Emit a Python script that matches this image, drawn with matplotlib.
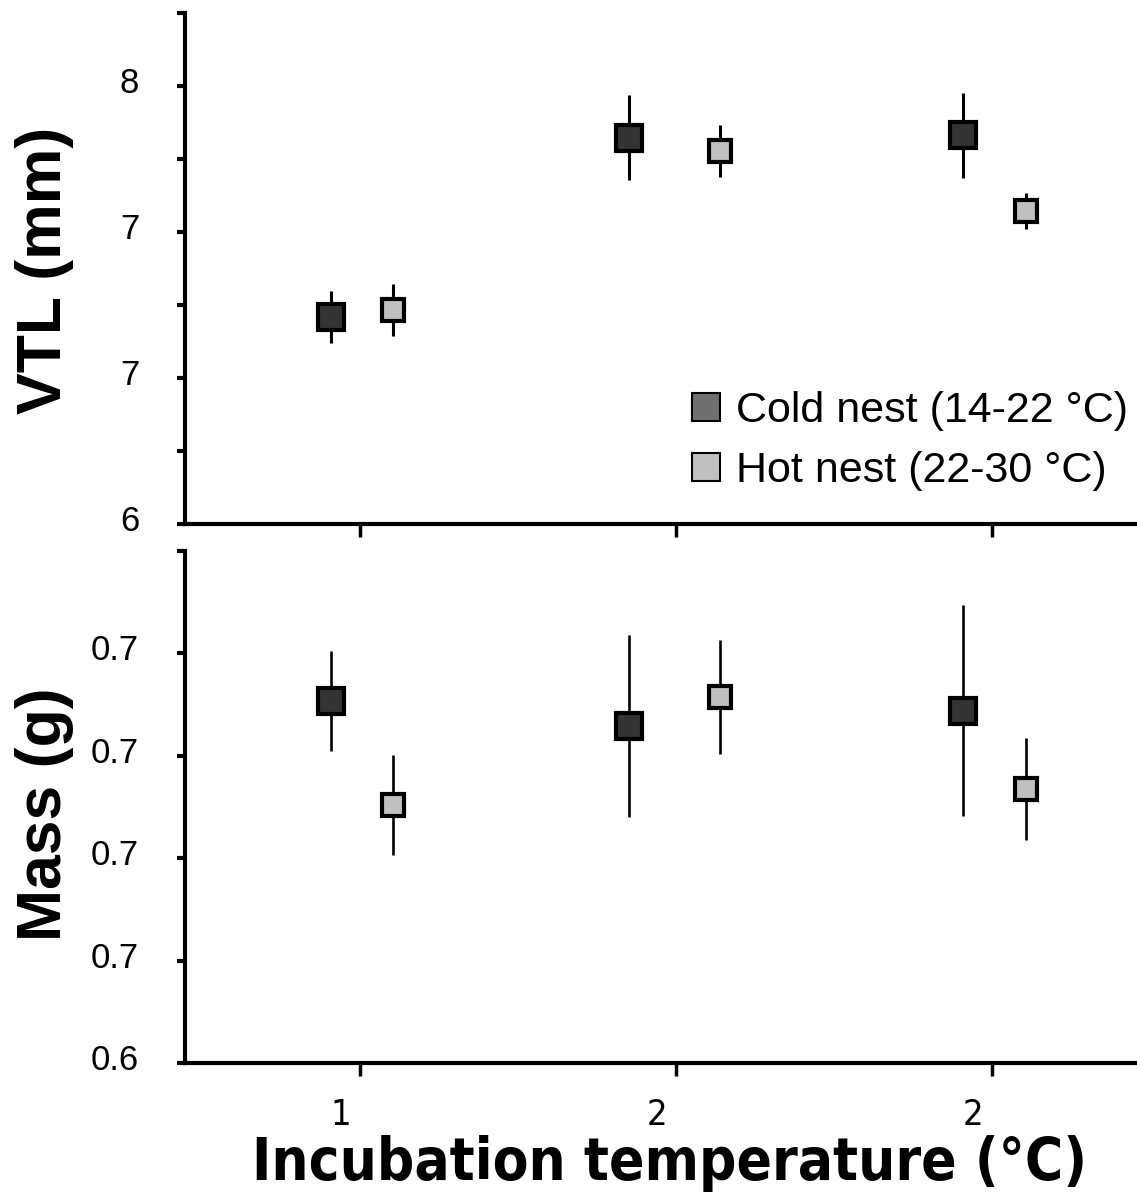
import numpy as np
import matplotlib
matplotlib.use('Agg')
import matplotlib.pyplot as plt
from matplotlib.lines import Line2D
from matplotlib.ticker import FixedLocator, FuncFormatter
from matplotlib import font_manager as fm
import matplotlib.transforms as mtransforms

plt.rcParams['font.family'] = ['Liberation Sans', 'DejaVu Sans']

# 数据
group_ticks = [1, 2, 3]
group_labels = ['1', '2', '2']

x_cold = [0.908, 1.851, 2.908]
x_hot = [1.104, 2.139, 3.108]

vtl_cold = [6.947, 7.763, 7.776]
vtl_cold_err = [0.119, 0.194, 0.194]
vtl_hot = [6.977, 7.703, 7.430]
vtl_hot_err = [0.119, 0.119, 0.082]

mass_cold = [0.7107, 0.7058, 0.7088]
mass_cold_err = [0.0098, 0.0178, 0.0206]
mass_hot = [0.6904, 0.7115, 0.6935]
mass_hot_err = [0.0098, 0.0111, 0.0100]

vtl_ticks = [6 + i / 3 for i in range(8)]
mass_ticks = [0.64 + 0.02 * i for i in range(6)]

cold_color = '#333333'
hot_color = '#c0c0c0'
legend_cold = '#707070'


# 找一个窄体字体（若有）
def find_narrow(bold):
    best = None
    for f in fm.fontManager.ttflist:
        p = f.fname.lower()
        if not ('narrow' in p or 'condensed' in p or 'cond' in p):
            continue
        is_bold = ('bold' in p) or (f.weight in ('bold', 700))
        if is_bold != bold or 'italic' in p or 'oblique' in p:
            continue
        rank = 0 if 'liberation' in p else (1 if 'dejavu' in p else 2)
        if best is None or rank < best[0]:
            best = (rank, f.fname)
    if best:
        return fm.FontProperties(fname=best[1])
    return fm.FontProperties(family='Liberation Sans',
                             weight='bold' if bold else 'normal')


narrow_bold = find_narrow(True)
narrow_reg = find_narrow(False)

W, H = 1137, 1200
fig = plt.figure(figsize=(W / 100, H / 100), dpi=100)
ax1 = fig.add_axes([185 / W, 1 - 524 / H, 1 - 185 / W, (524 - 13) / H])
ax2 = fig.add_axes([185 / W, 1 - 1063 / H, 1 - 185 / W, (1063 - 551) / H])


def draw(ax, yc, ec, yh, eh, lw):
    ax.errorbar(x_cold, yc, yerr=ec, fmt='s', ms=18.5, mfc=cold_color, mec='k',
                mew=3, ecolor='k', elinewidth=lw, capsize=0, zorder=3)
    ax.errorbar(x_hot, yh, yerr=eh, fmt='s', ms=16.5, mfc=hot_color, mec='k',
                mew=3, ecolor='k', elinewidth=lw, capsize=0, zorder=3)


draw(ax1, vtl_cold, vtl_cold_err, vtl_hot, vtl_hot_err, 2.2)
draw(ax2, mass_cold, mass_cold_err, mass_hot, mass_hot_err, 1.9)

for ax in (ax1, ax2):
    ax.set_xlim(0.446, 3.46)
    for side in ['right', 'top']:
        ax.spines[side].set_visible(False)
    for side in ['left', 'bottom']:
        ax.spines[side].set_linewidth(3)
    ax.set_xticks(group_ticks)
    ax.tick_params(axis='x', direction='out', length=9, width=2.5)
    ax.tick_params(axis='y', direction='out', length=6, width=3,
                   labelsize=25, pad=27)

ax1.set_ylim(vtl_ticks[0], vtl_ticks[-1])
ax1.yaxis.set_major_locator(FixedLocator(vtl_ticks))
ax1.yaxis.set_major_formatter(FuncFormatter(
    lambda v, p: '%.0f' % v if p % 2 == 0 and p < len(vtl_ticks) - 1 else ''))
ax1.tick_params(axis='x', labelbottom=False)

ax2.set_ylim(mass_ticks[0], mass_ticks[-1])
ax2.yaxis.set_major_locator(FixedLocator(mass_ticks))
ax2.yaxis.set_major_formatter(FuncFormatter(
    lambda v, p: '%.1f' % v if p < len(mass_ticks) - 1 else ''))
ax2.set_xticklabels(group_labels)
ax2.tick_params(axis='x', pad=16)
for lab in ax2.get_xticklabels():
    lab.set_fontproperties(narrow_reg)
    lab.set_fontsize(26)

# 刻度标签微调位置
up = mtransforms.ScaledTranslation(0, 6 / 100, fig.dpi_scale_trans)
left = mtransforms.ScaledTranslation(-19 / 100, 0, fig.dpi_scale_trans)
for ax in (ax1, ax2):
    for lab in ax.get_yticklabels():
        lab.set_transform(lab.get_transform() + up)
for lab in ax2.get_xticklabels():
    lab.set_transform(lab.get_transform() + left)

# 轴标题
fig.text(45 / W, 1 - 270 / H, 'VTL (mm)', rotation=90, ha='center', va='center',
         fontsize=45, fontweight='bold')
fig.text(45 / W, 1 - 814 / H, 'Mass (g)', rotation=90, ha='center', va='center',
         fontsize=45, fontweight='bold')
xl = fig.text(670 / W, 1 - 1163 / H, 'Incubation temperature (°C)', ha='center',
              va='center', fontproperties=narrow_bold, fontsize=58)

# 按参考宽度调整字号
renderer = fig.canvas.get_renderer()
for _ in range(3):
    w = xl.get_window_extent(renderer).width
    xl.set_fontsize(xl.get_fontsize() * 835 / w)

# 图例
handles = [
    Line2D([], [], ls='none', marker='s', ms=20.5, mfc=legend_cold, mec='k', mew=1.5),
    Line2D([], [], ls='none', marker='s', ms=20.5, mfc=hot_color, mec='k', mew=1.5),
]
fig.legend(handles, ['Cold nest (14-22 °C)', 'Hot nest (22-30 °C)'],
           loc='center left', bbox_to_anchor=(691 / W, 1 - 441 / H),
           frameon=False, fontsize=31, handlelength=0.7, handletextpad=0.35,
           borderpad=0, borderaxespad=0, labelspacing=0.45)

fig.savefig('out.png', dpi=100)
